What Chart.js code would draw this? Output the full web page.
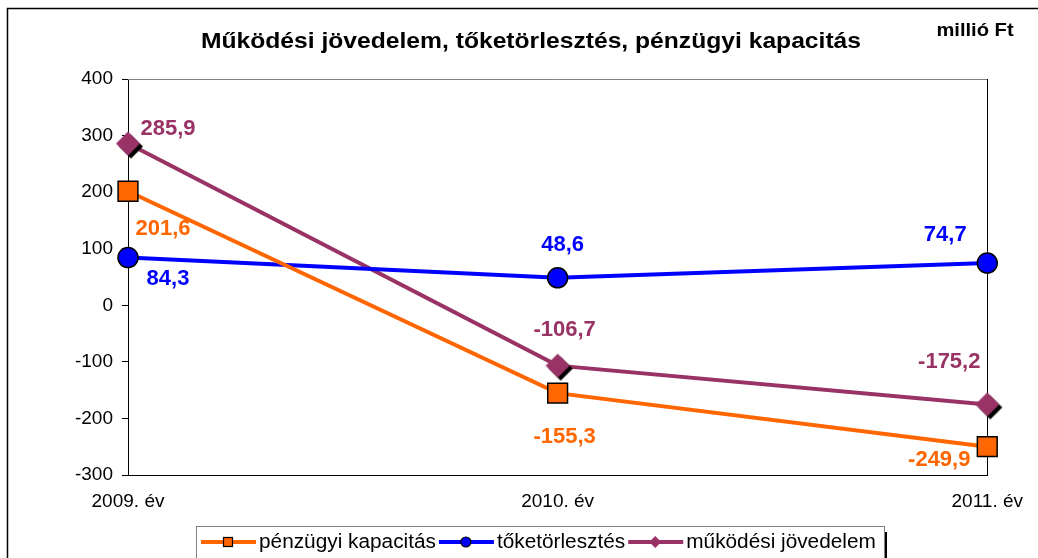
<!DOCTYPE html>
<html lang="hu">
<head>
<meta charset="utf-8">
<title>Működési jövedelem, tőketörlesztés, pénzügyi kapacitás</title>
<script src="https://cdn.jsdelivr.net/npm/chart.js@4.4.0/dist/chart.umd.min.js"></script>
<style>
  html, body { margin: 0; padding: 0; background: #fff; }
  #chart { display: block; }
</style>
</head>
<body>
<canvas id="chart" width="1038" height="558"></canvas>
<script>
// ── Adatok ────────────────────────────────────────────────────────────────
const TITLE = 'Működési jövedelem, tőketörlesztés, pénzügyi kapacitás';
const UNIT  = 'millió Ft';
const YEARS = ['2009. év', '2010. év', '2011. év'];

const PENZUGYI_KAPACITAS = [201.6, -155.3, -249.9];
const TOKETORLESZTES     = [84.3, 48.6, 74.7];
const MUKODESI_JOVEDELEM = [285.9, -106.7, -175.2];

const Y_MIN = -300, Y_MAX = 400, Y_STEP = 100;

// ── Stílus ────────────────────────────────────────────────────────────────
const FONT   = "'Liberation Sans', Arial, sans-serif";
const ORANGE = '#FF6600';
const BLUE   = '#0000FF';
const PURPLE = '#993366';

const fmt = v => v.toFixed(1).replace('.', ',');

// rombusz marker fekete árnyékkal (Excel stílus)
function diamondMarker(r, fill, shadow) {
  const c = document.createElement('canvas');
  const s = 2 * r + 8;
  c.width = s; c.height = s;
  const g = c.getContext('2d');
  const drawD = (cx, cy, col) => {
    g.beginPath();
    g.moveTo(cx, cy - r); g.lineTo(cx + r, cy); g.lineTo(cx, cy + r); g.lineTo(cx - r, cy);
    g.closePath();
    g.fillStyle = col; g.fill();
  };
  if (shadow) drawD(s / 2 + shadow, s / 2 + shadow, '#000');
  drawD(s / 2, s / 2, fill);
  return c;
}

// vízszintesen nyújtott szöveg (az eredeti kép szélesebb betűi miatt)
function stretchText(ctx, txt, x, y, sx) {
  ctx.save();
  ctx.translate(x, y);
  ctx.scale(sx, 1);
  ctx.fillText(txt, 0, 0);
  ctx.restore();
}

const datasets = [
  {
    label: 'pénzügyi kapacitás', data: PENZUGYI_KAPACITAS,
    borderColor: ORANGE, backgroundColor: ORANGE, borderWidth: 4,
    pointStyle: 'rect', pointRadius: 14, pointBorderColor: '#000', pointBorderWidth: 1.5,
    pointBackgroundColor: ORANGE,
    labelOffsets: [[35, 38], [7, 44], [-48, 13]],
  },
  {
    label: 'tőketörlesztés', data: TOKETORLESZTES,
    borderColor: BLUE, backgroundColor: BLUE, borderWidth: 4,
    pointStyle: 'circle', pointRadius: 10, pointBorderColor: '#000', pointBorderWidth: 1.5,
    pointBackgroundColor: BLUE,
    labelOffsets: [[40, 21], [5, -33], [-42, -28]],
  },
  {
    label: 'működési jövedelem', data: MUKODESI_JOVEDELEM,
    borderColor: PURPLE, backgroundColor: PURPLE, borderWidth: 4,
    pointStyle: diamondMarker(12, PURPLE, 3), pointRadius: 12,
    labelOffsets: [[40, -15], [7, -36], [-38, -42]],
  },
];

// ── Plugin: keret, feliratok, jelmagyarázat ──────────────────────────────
const decorPlugin = {
  id: 'decor',
  beforeDatasetsDraw(chart) {
    const { ctx, chartArea: a } = chart;
    ctx.save();
    ctx.lineWidth = 1;
    ctx.strokeStyle = '#808080';
    ctx.beginPath();
    ctx.moveTo(a.left, Math.round(a.top) + 0.5);
    ctx.lineTo(a.right, Math.round(a.top) + 0.5);
    ctx.stroke();
    ctx.strokeStyle = '#000';
    ctx.beginPath();
    ctx.moveTo(Math.round(a.right) + 0.5, a.top);
    ctx.lineTo(Math.round(a.right) + 0.5, a.bottom);
    ctx.stroke();
    ctx.restore();
  },

  afterDatasetsDraw(chart) {
    const ctx = chart.ctx;
    ctx.save();
    ctx.font = 'bold 22px ' + FONT;
    ctx.textAlign = 'center';
    ctx.textBaseline = 'middle';
    chart.data.datasets.forEach((ds, i) => {
      const meta = chart.getDatasetMeta(i);
      meta.data.forEach((pt, j) => {
        const [dx, dy] = ds.labelOffsets[j];
        ctx.fillStyle = ds.borderColor;
        ctx.fillText(fmt(ds.data[j]), pt.x + dx, pt.y + dy);
      });
    });
    ctx.restore();
  },

  afterDraw(chart) {
    const ctx = chart.ctx;
    ctx.save();

    // külső keret
    ctx.strokeStyle = '#000';
    ctx.lineWidth = 1.5;
    ctx.beginPath();
    ctx.moveTo(7.5, 600); ctx.lineTo(7.5, 8.5); ctx.lineTo(1040, 8.5);
    ctx.stroke();

    // cím + mértékegység
    ctx.fillStyle = '#000';
    ctx.textBaseline = 'middle';
    ctx.textAlign = 'center';
    ctx.font = 'bold 22px ' + FONT;
    stretchText(ctx, TITLE, 531, 42, 1.12);
    ctx.font = 'bold 19px ' + FONT;
    stretchText(ctx, UNIT, 975, 31, 1.06);

    // jelmagyarázat doboz
    const box = { x: 196, y: 526, w: 688 };
    ctx.fillStyle = '#000';
    ctx.fillRect(box.x + box.w, box.y + 6, 3, 40);
    ctx.strokeStyle = '#808080';
    ctx.lineWidth = 1;
    ctx.strokeRect(box.x + 0.5, box.y + 0.5, box.w, 60);

    ctx.font = '20px ' + FONT;
    ctx.textAlign = 'left';
    const cy = 542;
    let x = 201;
    chart.data.datasets.forEach((ds, i) => {
      ctx.strokeStyle = ds.borderColor;
      ctx.lineWidth = 4;
      ctx.beginPath(); ctx.moveTo(x, cy); ctx.lineTo(x + 55, cy); ctx.stroke();
      const mx = x + 27;
      ctx.fillStyle = ds.borderColor;
      ctx.strokeStyle = '#000';
      ctx.lineWidth = 1.2;
      if (i === 0) {
        ctx.fillRect(mx - 4.5, cy - 4.5, 9, 9);
        ctx.strokeRect(mx - 4.5, cy - 4.5, 9, 9);
      } else if (i === 1) {
        ctx.beginPath(); ctx.arc(mx, cy, 5, 0, Math.PI * 2); ctx.fill(); ctx.stroke();
      } else {
        ctx.beginPath();
        ctx.moveTo(mx, cy - 6); ctx.lineTo(mx + 6, cy); ctx.lineTo(mx, cy + 6); ctx.lineTo(mx - 6, cy);
        ctx.closePath(); ctx.fill();
      }
      ctx.fillStyle = '#000';
      const w = ctx.measureText(ds.label).width * 1.04;
      ctx.textAlign = 'left';
      stretchText(ctx, ds.label, x + 58, cy, 1.04);
      x += 58 + w + 3;
    });

    ctx.restore();
  },
};

new Chart(document.getElementById('chart'), {
  type: 'line',
  data: { labels: YEARS, datasets },
  options: {
    responsive: false,
    animation: false,
    layout: { padding: { top: 79, right: 49, bottom: 0, left: 0 } },
    plugins: {
      legend: { display: false },
      title: { display: false },
      tooltip: { enabled: false },
    },
    elements: { line: { tension: 0 } },
    scales: {
      x: {
        offset: false,
        grid: { display: true, drawOnChartArea: false, drawTicks: false },
        border: { display: true, color: '#000', width: 1 },
        ticks: { color: '#000', font: { family: FONT, size: 19 }, padding: 15, maxRotation: 0 },
        afterFit: s => { s.height = 83; },
      },
      y: {
        min: Y_MIN, max: Y_MAX,
        grid: { drawOnChartArea: false, drawTicks: true, tickLength: 6, color: '#000' },
        border: { display: true, color: '#000', width: 1 },
        ticks: { stepSize: Y_STEP, color: '#000', font: { family: FONT, size: 19 }, padding: 9 },
        afterFit: s => { s.width = 128; },
      },
    },
  },
  plugins: [decorPlugin],
});
</script>
</body>
</html>
